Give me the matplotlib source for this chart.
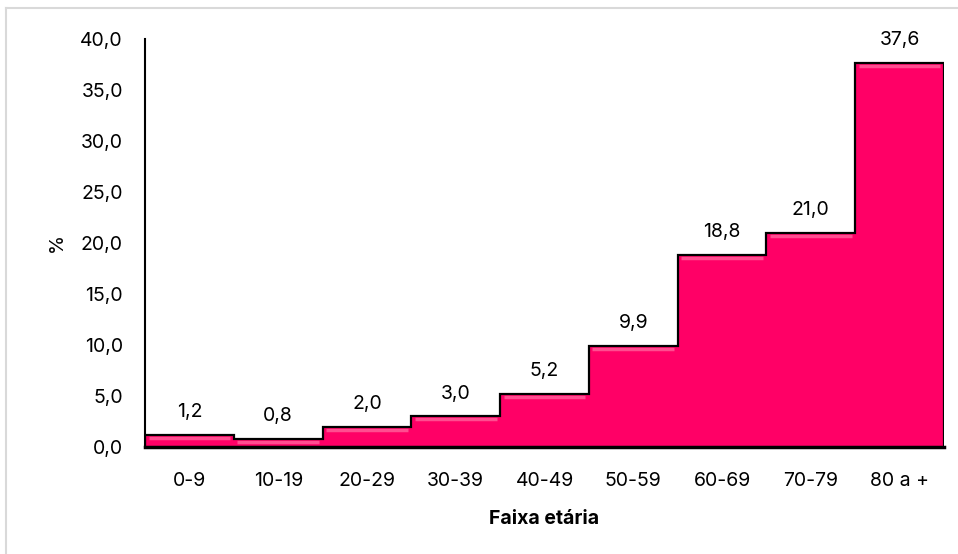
import numpy as np
import matplotlib.pyplot as plt
import matplotlib.transforms as mtransforms
from matplotlib.lines import Line2D

plt.rcParams['font.family'] = ['Inter', 'DejaVu Sans']

# Distribution by age group (%)
faixas = ['0-9', '10-19', '20-29', '30-39', '40-49', '50-59', '60-69', '70-79', '80 a +']
valores = [1.2, 0.8, 2.0, 3.0, 5.2, 9.9, 18.8, 21.0, 37.6]
yticks = [0, 5, 10, 15, 20, 25, 30, 35, 40]

fs = 14

fig = plt.figure(figsize=(9.58, 5.54), dpi=100)
ax = fig.add_axes([0.1514, 0.193, 0.834, 0.737])

# light frame around the chart area (left and top edges only)
fig.add_artist(Line2D([6 / 958, 6 / 958], [0, 1 - 8 / 554], transform=fig.transFigure,
                      color='#d9d9d9', lw=1.5))
fig.add_artist(Line2D([6 / 958, 1], [1 - 8 / 554, 1 - 8 / 554], transform=fig.transFigure,
                      color='#d9d9d9', lw=1.5))

x = np.arange(len(valores))
edges = np.arange(len(valores) + 1) - 0.5

# drop shadow
shadow = mtransforms.offset_copy(ax.transData, fig=fig, x=3, y=-3, units='dots')
ax.stairs(valores, edges, baseline=0, fill=True, color='#808080', alpha=0.45,
          transform=shadow, zorder=1)

# bars touching each other
ax.bar(x, valores, width=1.0, color='#ff0066', edgecolor='none', zorder=2)

# soft highlight along the top of each bar
hl = mtransforms.offset_copy(ax.transData, fig=fig, x=0, y=-3, units='dots')
for xi, v in zip(x, valores):
    ax.plot([xi - 0.46, xi + 0.46], [v, v], color='#ff4d90', lw=2.5, transform=hl,
            zorder=3, solid_capstyle='butt')

# stepped black outline
ax.stairs(valores, edges, baseline=0, fill=False, color='black', lw=1.6, zorder=4)

for xi, v in zip(x, valores):
    ax.annotate(f'{v:.1f}'.replace('.', ','), (xi, v), xytext=(0, 10),
                textcoords='offset points', ha='center', va='bottom', fontsize=fs)

ax.set_xlim(-0.5, len(valores) - 0.5)
ax.set_ylim(0, 40)
ax.set_xticks(x)
ax.set_xticklabels(faixas, fontsize=fs)
ax.set_yticks(yticks)
ax.set_yticklabels([f'{t:.1f}'.replace('.', ',') for t in yticks], fontsize=fs)
ax.tick_params(length=0)
ax.tick_params(axis='y', pad=16)
ax.tick_params(axis='x', pad=18)

for s in ['top', 'right']:
    ax.spines[s].set_visible(False)
ax.spines['left'].set_linewidth(1.5)
ax.spines['bottom'].set_linewidth(2.5)
ax.spines['bottom'].set_zorder(5)

ax.set_xlabel('Faixa etária', fontsize=fs, fontweight='bold', labelpad=14)
ax.set_ylabel('%', fontsize=fs, labelpad=10)

plt.savefig('out.png', dpi=100)
